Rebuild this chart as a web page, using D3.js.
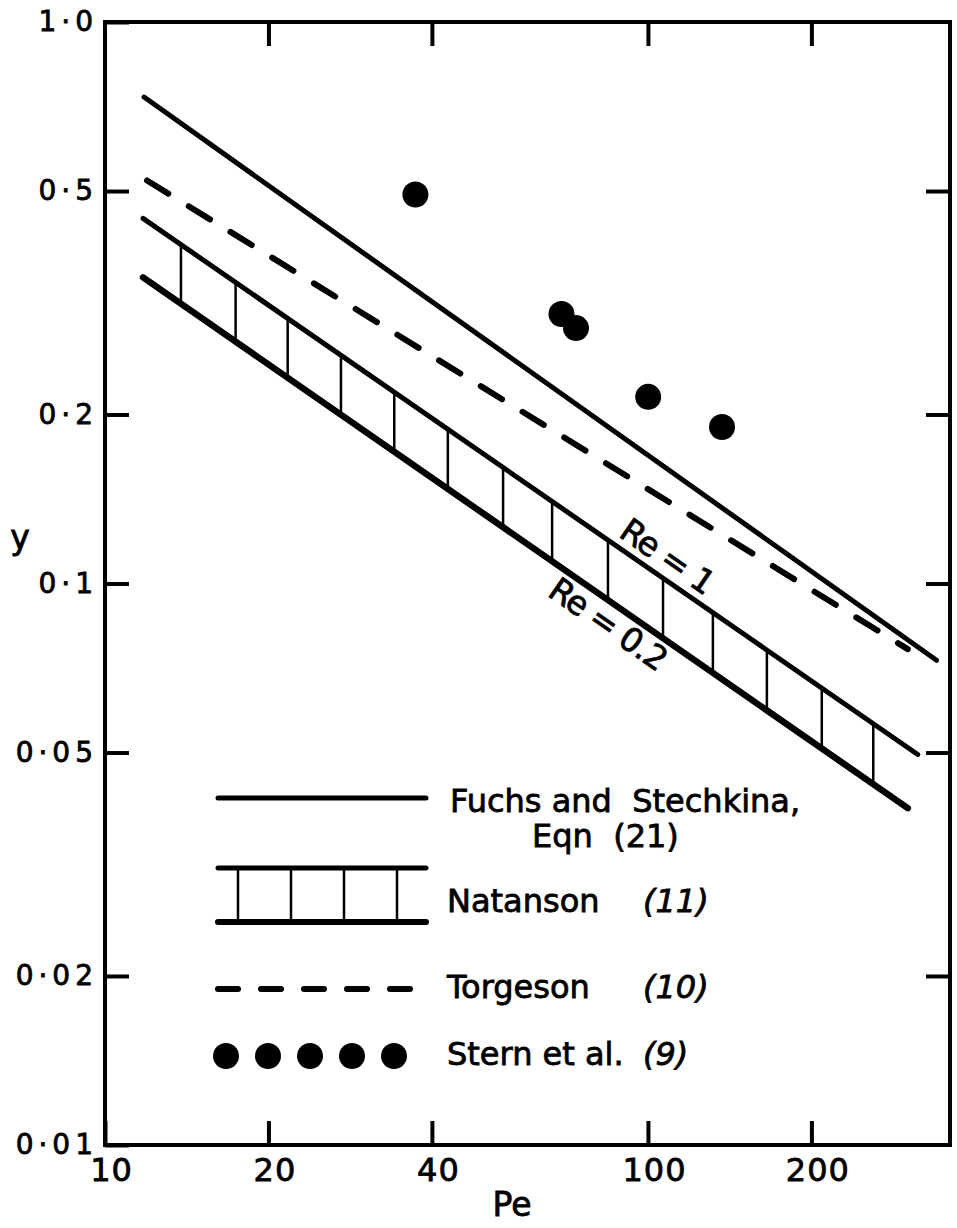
<!DOCTYPE html>
<html>
<head>
<meta charset="utf-8">
<script src="https://cdn.jsdelivr.net/npm/d3@7"></script>
<style>
  html, body { margin: 0; padding: 0; background: #fff; overflow: hidden; }
  svg { display: block; }
  text { font-family: "DejaVu Sans", sans-serif; fill: #000; stroke: #000; stroke-width: 0.8px; }
</style>
</head>
<body>
<div id="chart"></div>
<script>
// axis ticks
var peTicks = [10, 20, 40, 100, 200];
var peTickLabels = ["10", "20", "40", "100", "200"];
var yTicks = [1.0, 0.5, 0.2, 0.1, 0.05, 0.02, 0.01];
var yTickLabels = ["1·0", "0·5", "0·2", "0·1", "0·05", "0·02", "0·01"];

// Fuchs and Stechkina, Eqn (21)
var fuchsPe = [11.8, 340];
var fuchsY = [0.735, 0.073];
// Torgeson (10)
var torgesonPe = [11.95, 301];
var torgesonY = [0.522, 0.0764];
// Natanson (11), Re = 1 and Re = 0.2
var natansonRe1Pe = [11.75, 314];
var natansonRe1Y = [0.447, 0.0496];
var natansonRe02Pe = [11.75, 301];
var natansonRe02Y = [0.351, 0.0398];
// cross hatching between the two Natanson lines
var rungPe = [13.8, 17.4, 21.7, 27.2, 34.1, 42.8, 54.1, 66.6, 84.4, 106.6, 131.7, 165.6, 209, 260];
// Stern et al. (9)
var sternPe = [37.3, 69.3, 73.7, 100.1, 136.9];
var sternY = [0.493, 0.302, 0.285, 0.215, 0.19];

// set up size and margin of chart
var margin = {top: 22, right: 7, bottom: 83, left: 105},
  totalWidth = 957,
  innerWidth = totalWidth - margin.left - margin.right,
  totalHeight = 1228,
  innerHeight = totalHeight - margin.top - margin.bottom;

var svg = d3.select("#chart").append("svg")
    .attr("width", totalWidth)
    .attr("height", totalHeight);

var chart = svg.append("g")
    .attr("transform", "translate(" + margin.left + "," + margin.top + ")");

// log scales on both axes
var xScale = d3.scaleLog()
    .domain([10, 360])
    .range([0, innerWidth]);

var yScale = d3.scaleLog()
    .domain([0.01, 1])
    .range([innerHeight, 0]);

var line = d3.line()
    .x(function(d) { return xScale(d[0]); })
    .y(function(d) { return yScale(d[1]); });

// axes, ticks pointing inwards
function styleAxis(g, size) {
  g.select(".domain").remove();
  g.selectAll(".tick line").attr("stroke", "#000").attr("stroke-width", 4);
  g.selectAll("text").attr("font-size", size).attr("fill", "#000");
  g.attr("font-family", null).attr("font-size", null);
}

chart.append("g")
    .attr("transform", "translate(0," + innerHeight + ")")
    .call(d3.axisBottom(xScale).tickValues(peTicks).tickSize(-24).tickPadding(13)
      .tickFormat(function(d, i) { return peTickLabels[i]; }))
    .call(styleAxis, 32)
    .selectAll("text").attr("dx", 6).attr("letter-spacing", 1);

chart.append("g")
    .call(d3.axisTop(xScale).tickValues(peTicks.slice(1)).tickSize(-24).tickFormat(""))
    .call(styleAxis, 32);

chart.append("g")
    .call(d3.axisLeft(yScale).tickValues(yTicks).tickSize(-24).tickPadding(7)
      .tickFormat(function(d, i) { return yTickLabels[i]; }))
    .call(styleAxis, 28)
    .selectAll("text").attr("letter-spacing", 5);

chart.append("g")
    .attr("transform", "translate(" + innerWidth + ",0)")
    .call(d3.axisRight(yScale).tickValues(yTicks.slice(1, -1)).tickSize(-24).tickFormat(""))
    .call(styleAxis, 28);

// frame
chart.append("rect")
    .attr("width", innerWidth)
    .attr("height", innerHeight)
    .attr("fill", "none")
    .attr("stroke", "#000")
    .attr("stroke-width", 4);

// axis titles
svg.append("text")
    .attr("x", 512).attr("y", 1216)
    .attr("text-anchor", "middle")
    .attr("font-size", 33)
    .text("Pe");

svg.append("text")
    .attr("x", 20).attr("y", 549)
    .attr("text-anchor", "middle")
    .attr("font-size", 33)
    .text("y");

// Natanson band: rungs clipped to the area between both lines
var band = d3.zip(natansonRe1Pe, natansonRe1Y)
    .concat(d3.zip(natansonRe02Pe, natansonRe02Y).reverse());

chart.append("clipPath")
    .attr("id", "band")
  .append("path")
    .attr("d", line(band) + "Z");

chart.append("g")
    .attr("clip-path", "url(#band)")
  .selectAll("line")
    .data(rungPe)
  .enter().append("line")
    .attr("x1", function(d) { return xScale(d); })
    .attr("x2", function(d) { return xScale(d); })
    .attr("y1", 0)
    .attr("y2", innerHeight)
    .attr("stroke", "#000")
    .attr("stroke-width", 2.5);

chart.append("path")
    .datum(d3.zip(natansonRe1Pe, natansonRe1Y))
    .attr("d", line)
    .attr("fill", "none")
    .attr("stroke", "#000")
    .attr("stroke-width", 5)
    .attr("stroke-linecap", "round");

chart.append("path")
    .datum(d3.zip(natansonRe02Pe, natansonRe02Y))
    .attr("d", line)
    .attr("fill", "none")
    .attr("stroke", "#000")
    .attr("stroke-width", 6.5)
    .attr("stroke-linecap", "round");

// Fuchs and Stechkina
chart.append("path")
    .datum(d3.zip(fuchsPe, fuchsY))
    .attr("d", line)
    .attr("fill", "none")
    .attr("stroke", "#000")
    .attr("stroke-width", 5)
    .attr("stroke-linecap", "round");

// Torgeson
chart.append("path")
    .datum(d3.zip(torgesonPe, torgesonY))
    .attr("d", line)
    .attr("fill", "none")
    .attr("stroke", "#000")
    .attr("stroke-width", 6)
    .attr("stroke-linecap", "round")
    .attr("stroke-dasharray", "25,24");

// Stern et al. points
chart.selectAll(".dot")
    .data(d3.zip(sternPe, sternY))
  .enter().append("circle")
    .attr("class", "dot")
    .attr("cx", function(d) { return xScale(d[0]); })
    .attr("cy", function(d) { return yScale(d[1]); })
    .attr("r", 13)
    .attr("fill", "#000");

// Re labels along the Natanson lines
function lineLabel(ys, pes, at, offset, txt) {
  var x1 = xScale(pes[0]), y1 = yScale(ys[0]),
      x2 = xScale(pes[1]), y2 = yScale(ys[1]);
  var ang = Math.atan2(y2 - y1, x2 - x1);
  var t = (xScale(at) - x1) / (x2 - x1);
  var px = xScale(at), py = y1 + t * (y2 - y1);
  chart.append("text")
      .attr("transform", "translate(" + px + "," + py + ") rotate(" + (ang * 180 / Math.PI) + ")")
      .attr("y", offset)
      .attr("font-size", 33)
      .attr("letter-spacing", -1)
      .text(txt);
}
lineLabel(natansonRe1Y, natansonRe1Pe, 86, -9, "Re = 1");
lineLabel(natansonRe02Y, natansonRe02Pe, 70, 31, "Re = 0.2");

// legend
var legend = svg.append("g");
var lx0 = 218, lx1 = 426;

legend.append("line")
    .attr("x1", lx0).attr("x2", lx1).attr("y1", 798).attr("y2", 798)
    .attr("stroke", "#000").attr("stroke-width", 5).attr("stroke-linecap", "round");

[868, 922].forEach(function(y, i) {
  legend.append("line")
      .attr("x1", lx0).attr("x2", lx1).attr("y1", y).attr("y2", y)
      .attr("stroke", "#000").attr("stroke-width", i ? 6 : 5).attr("stroke-linecap", "round");
});
d3.range(4).forEach(function(i) {
  legend.append("line")
      .attr("x1", 238 + i * 53).attr("x2", 238 + i * 53).attr("y1", 868).attr("y2", 922)
      .attr("stroke", "#000").attr("stroke-width", 2.5);
});

legend.append("line")
    .attr("x1", lx0).attr("x2", lx1 - 3).attr("y1", 989).attr("y2", 989)
    .attr("stroke", "#000").attr("stroke-width", 6).attr("stroke-linecap", "round")
    .attr("stroke-dasharray", "20,23");

d3.range(5).forEach(function(i) {
  legend.append("circle")
      .attr("cx", 226 + i * 42).attr("cy", 1056).attr("r", 13).attr("fill", "#000");
});

var legendText = [
  {x: 450, y: 812, t: "Fuchs and\u00a0\u00a0Stechkina,"},
  {x: 532, y: 847, t: "Eqn\u00a0\u00a0(21)"},
  {x: 447, y: 912, t: "Natanson"},
  {x: 643, y: 912, t: "(11)", it: true},
  {x: 447, y: 998, t: "Torgeson"},
  {x: 643, y: 998, t: "(10)", it: true},
  {x: 447, y: 1065, t: "Stern et al."},
  {x: 643, y: 1065, t: "(9)", it: true}
];
legend.selectAll("text.lab")
    .data(legendText)
  .enter().append("text")
    .attr("class", "lab")
    .attr("x", function(d) { return d.x; })
    .attr("y", function(d) { return d.y; })
    .attr("font-size", 32)
    .attr("font-style", function(d) { return d.it ? "italic" : null; })
    .text(function(d) { return d.t; });
</script>
</body>
</html>
